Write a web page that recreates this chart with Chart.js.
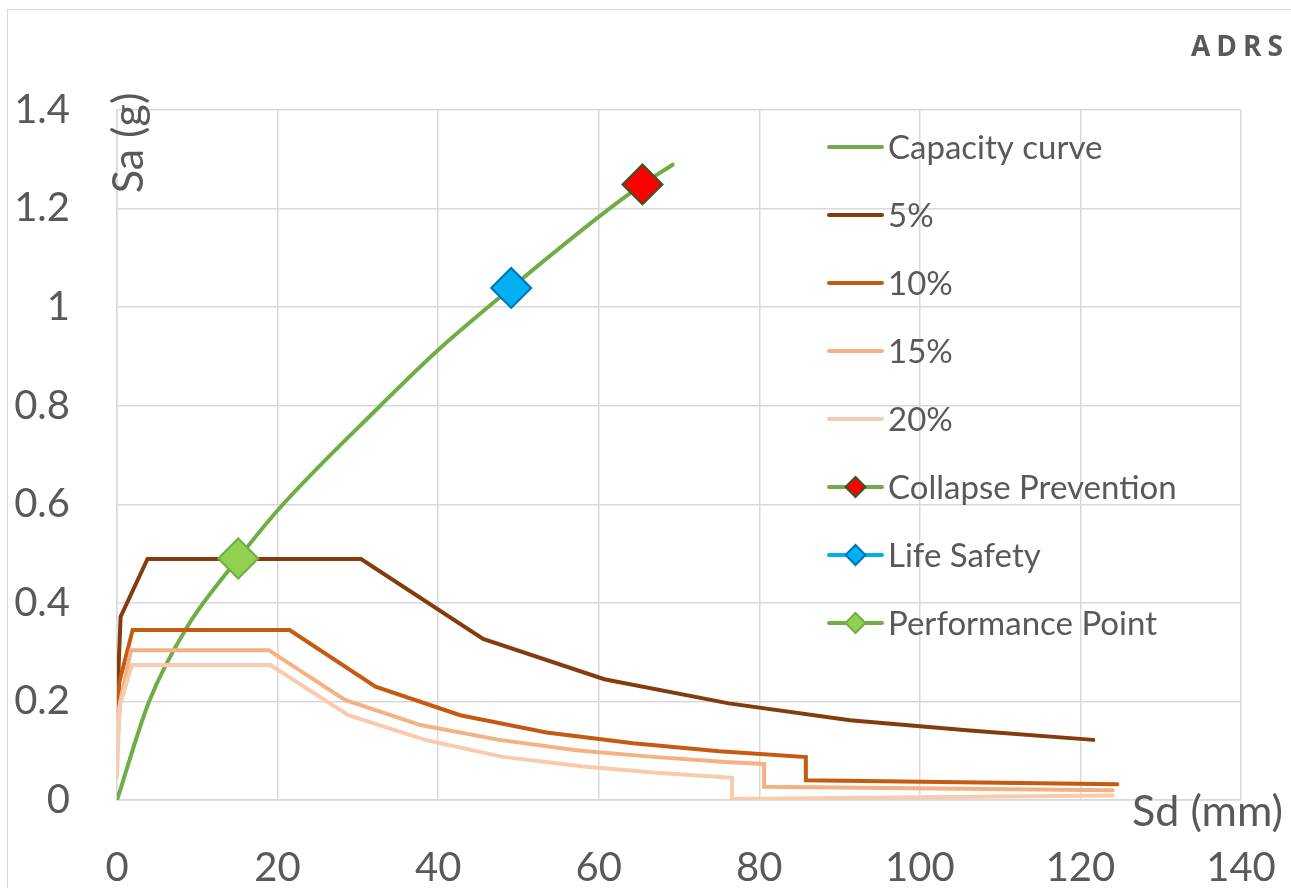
<!DOCTYPE html>
<html>
<head>
<meta charset="utf-8">
<script src="https://cdn.jsdelivr.net/npm/chart.js@4.4.1/dist/chart.umd.min.js"></script>
<style>
  html, body { margin: 0; padding: 0; background: #ffffff; overflow: hidden; }
  #frame { position: absolute; left: 7px; top: 9px; width: 1400px; height: 1000px;
           border: 1px solid #d9d9d9; box-sizing: border-box; }
  #wrap { position: absolute; left: 0; top: 0; width: 1291px; height: 888px; }
</style>
</head>
<body>
<div id="frame"></div>
<div id="wrap"><canvas id="chart" width="1291" height="888"></canvas></div>
<script>
// ---------------- data ----------------
const chartTitle = 'ADRS';
const xAxisTitle = 'Sd (mm)';
const yAxisTitle = 'Sa (g)';

const xTickLabels = ['0', '20', '40', '60', '80', '100', '120', '140'];
const yTickLabels = ['0', '0.2', '0.4', '0.6', '0.8', '1', '1.2', '1.4'];

const seriesNames = ['Capacity curve', '5%', '10%', '15%', '20%',
                     'Collapse Prevention', 'Life Safety', 'Performance Point'];

const capacitySd = [0, 4.0, 8.7, 15.1, 20.3, 32.8, 40.0, 49.1, 60.0, 65.45, 69.2];
const capacitySa = [0, 0.20, 0.35, 0.49, 0.593, 0.80, 0.913, 1.039, 1.183, 1.249, 1.289];

const d5Sd = [0, 0.45, 3.8, 30.4, 45.6, 60.7, 76.2, 91.3, 106.2, 121.6];
const d5Sa = [0.19, 0.372, 0.489, 0.489, 0.327, 0.245, 0.196, 0.162, 0.141, 0.122];

const d10Sd = [0, 0.3, 1.95, 21.5, 32.2, 42.75, 53.5, 64.3, 75.0, 85.8, 85.8, 124.6];
const d10Sa = [0.14, 0.24, 0.345, 0.345, 0.23, 0.172, 0.137, 0.115, 0.099, 0.087, 0.04, 0.032];

const d15Sd = [0, 0.4, 1.74, 18.9, 28.4, 37.8, 47.6, 57.2, 66.4, 75.8, 80.6, 80.6, 124.0];
const d15Sa = [0.10, 0.20, 0.304, 0.304, 0.203, 0.152, 0.122, 0.101, 0.088, 0.077, 0.073, 0.027, 0.020];

const d20Sd = [0, 0.3, 1.87, 19.1, 28.8, 38.4, 47.9, 58.1, 67.2, 76.6, 76.6, 124.0];
const d20Sa = [0.047, 0.19, 0.274, 0.274, 0.172, 0.122, 0.088, 0.068, 0.0555, 0.045, 0.002, 0.009];

const collapseSd = [65.45];
const collapseSa = [1.249];
const lifeSafetySd = [49.1];
const lifeSafetySa = [1.039];
const perfSd = [15.1];
const perfSa = [0.49];

// ---------------- styling ----------------
const TEXT = '#595959';
const GRID = '#d9d9d9';
const FONT = 'Lato, "Open Sans", sans-serif';

const lineColors = ['#70AD47', '#843C0C', '#C55A11', '#F4B183', '#F8CBAD', '#70AD47', '#00B0F0', '#70AD47'];
const markerFill = [null, null, null, null, null, '#FF0000', '#00B0F0', '#92D050'];
const markerBorder = [null, null, null, null, null, '#375623', '#0070C0', '#70AD47'];

function pts(xs, ys) { return xs.map((x, i) => ({ x: x, y: ys[i] })); }

const lineSets = [
  [capacitySd, capacitySa], [d5Sd, d5Sa], [d10Sd, d10Sa], [d15Sd, d15Sa], [d20Sd, d20Sa]
];
const markerSets = [
  [collapseSd, collapseSa], [lifeSafetySd, lifeSafetySa], [perfSd, perfSa]
];

const datasets = [];
lineSets.forEach((s, i) => {
  const ds = {
    label: seriesNames[i],
    data: pts(s[0], s[1]),
    showLine: true,
    borderColor: lineColors[i],
    backgroundColor: lineColors[i],
    borderWidth: 4,
    borderCapStyle: 'round',
    pointRadius: 0,
    pointHoverRadius: 0,
    tension: 0,
    order: 10 - i
  };
  if (i === 0) ds.cubicInterpolationMode = 'monotone';
  datasets.push(ds);
});
markerSets.forEach((s, j) => {
  const i = 5 + j;
  datasets.push({
    label: seriesNames[i],
    data: pts(s[0], s[1]),
    showLine: false,
    borderColor: lineColors[i],
    pointStyle: 'rectRot',
    pointRadius: 20,
    pointHoverRadius: 20,
    pointBackgroundColor: markerFill[i],
    pointBorderColor: markerBorder[i],
    pointBorderWidth: 2,
    order: 3 - j
  });
});

function diamond(ctx, x, y, r, fill, stroke, lw) {
  ctx.beginPath();
  ctx.moveTo(x - r, y); ctx.lineTo(x, y - r); ctx.lineTo(x + r, y); ctx.lineTo(x, y + r);
  ctx.closePath();
  ctx.fillStyle = fill; ctx.fill();
  ctx.lineWidth = lw; ctx.strokeStyle = stroke; ctx.stroke();
}

const decor = {
  id: 'decor',
  afterDraw(chart) {
    const ctx = chart.ctx;
    const a = chart.chartArea;
    ctx.save();
    ctx.fillStyle = TEXT;

    // chart title (top right)
    ctx.font = 'bold 28px "Open Sans", Lato, sans-serif';
    ctx.textAlign = 'right';
    ctx.textBaseline = 'middle';
    try { ctx.letterSpacing = '6px'; } catch (e) {}
    ctx.fillText(chartTitle, 1289, 48);
    try { ctx.letterSpacing = '0px'; } catch (e) {}

    // x axis title (right, below axis)
    ctx.font = '43px ' + FONT;
    ctx.textAlign = 'right';
    ctx.textBaseline = 'middle';
    ctx.fillText(xAxisTitle, 1283, a.bottom + 12);

    // y axis title (rotated, inside top-left)
    ctx.save();
    ctx.translate(a.left + 12, a.top + 33);
    ctx.rotate(-Math.PI / 2);
    ctx.textAlign = 'center';
    ctx.textBaseline = 'middle';
    ctx.fillText(yAxisTitle, 0, 0);
    ctx.restore();

    // legend
    const lx0 = 829, lx1 = 882, tx = 888, y0 = 147, dy = 68;
    ctx.font = '33px ' + FONT;
    ctx.textAlign = 'left';
    ctx.textBaseline = 'middle';
    seriesNames.forEach((name, i) => {
      const y = y0 + i * dy;
      ctx.beginPath();
      ctx.moveTo(lx0, y); ctx.lineTo(lx1, y);
      ctx.lineWidth = 4; ctx.lineCap = 'round';
      ctx.strokeStyle = lineColors[i];
      ctx.stroke();
      if (markerFill[i]) {
        diamond(ctx, (lx0 + lx1) / 2, y, 10, markerFill[i], markerBorder[i], 2);
      }
      ctx.fillStyle = TEXT;
      ctx.fillText(name, tx, y + 1);
    });
    ctx.restore();
  }
};

new Chart(document.getElementById('chart'), {
  type: 'scatter',
  data: { datasets: datasets },
  options: {
    responsive: false,
    animation: false,
    devicePixelRatio: 1,
    layout: { padding: { top: 110, right: 50, left: 0, bottom: 0 } },
    plugins: { legend: { display: false }, tooltip: { enabled: false }, title: { display: false } },
    scales: {
      x: {
        type: 'linear', min: 0, max: 140,
        afterFit(s) { s.height = 88; s.paddingLeft = 0; s.paddingRight = 0; },
        afterBuildTicks(s) { s.ticks = xTickLabels.map(v => ({ value: Number(v) })); },
        grid: { color: GRID, lineWidth: 1.5, drawTicks: false },
        border: { color: GRID, width: 1.5 },
        ticks: {
          padding: 44, color: TEXT, font: { family: FONT, size: 40 },
          callback: (v, i) => xTickLabels[i]
        }
      },
      y: {
        type: 'linear', min: 0, max: 1.4,
        afterFit(s) { s.width = 117; s.paddingTop = 0; s.paddingBottom = 0; },
        afterBuildTicks(s) { s.ticks = yTickLabels.map(v => ({ value: Number(v) })); },
        grid: { color: GRID, lineWidth: 1.5, drawTicks: false },
        border: { color: GRID, width: 1.5 },
        ticks: {
          padding: 47, color: TEXT, font: { family: FONT, size: 40 },
          callback: (v, i) => yTickLabels[i]
        }
      }
    }
  },
  plugins: [decor]
});
</script>
</body>
</html>
